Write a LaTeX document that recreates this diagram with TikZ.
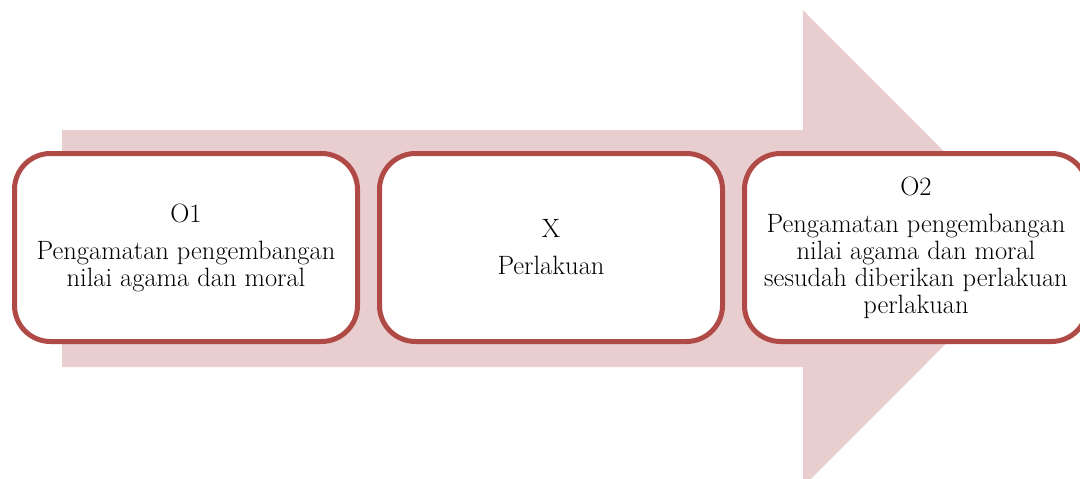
\documentclass[tikz,border=0pt]{standalone}
\usepackage[dvipsnames]{xcolor}
\usetikzlibrary{positioning}
\definecolor{arrowpink}{RGB}{232,206,206}
\definecolor{boxred}{RGB}{176,74,70}

\begin{document}
\begin{tikzpicture}[x=1pt,y=-1pt,node distance=365pt,stage node/.style={draw=boxred,line width=5pt,fill=white,rounded corners=36pt,minimum width=343pt,minimum height=188pt,align=center,inner sep=0pt,font=\fontsize{26.5}{27}\selectfont}]
            \useasboundingbox (0,0) rectangle (1080,479);
            \clip (0,0) rectangle (1080,479);

            % big arrow behind the boxes
            \fill[arrowpink] (62,130) -- (803,130) -- (803,10) -- (1041,248.5) -- (803,487) -- (803,367) -- (62,367) -- cycle;

            \node[stage node] (o1) at (186,247.5) {O1\\[10pt]Pengamatan pengembangan\\nilai agama dan moral};
            \node[stage node] (x) [right of = o1] {X\\[10pt]Perlakuan};
            \node[stage node] (o2) [right of = x] {O2\\[10pt]Pengamatan pengembangan\\nilai agama dan moral\\sesudah diberikan perlakuan\\perlakuan};
        \end{tikzpicture}
\end{document}
